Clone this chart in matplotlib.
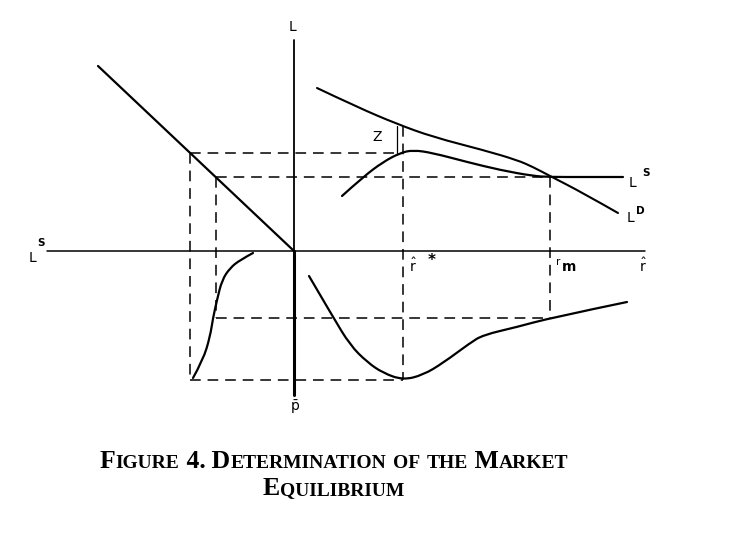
import numpy as np
import matplotlib
matplotlib.use('Agg')
import matplotlib.pyplot as plt
from matplotlib.path import Path
from matplotlib.patches import PathPatch

# diagram coordinates: origin where the two axes cross, L upwards, r to the right
r_star = 109.0      # r-hat *
r_m = 256.0         # market rate
L_high = 98.0       # supply at r*
L_eq = 74.0         # equilibrium volume
p_low = -129.0      # lowest p (at r*)
p_mid = -67.0       # p at r_m

# straight line in the upper-left quadrant
diag_x = [-196.0, 0.0]
diag_y = [185.0, 0.0]

# upper curve (L^D)
demand_x = [23, 63, 103, 139, 189, 223, 239, 256, 289, 324]
demand_y = [163, 144, 127, 114, 101, 91, 84, 75, 58, 38]

# hump shaped supply curve (L^S), flat after r_m
supply_x = [48, 69, 89, 106, 119, 139, 173, 206, 239, 256, 290, 329]
supply_y = [55, 74, 89, 98, 101, 98, 89, 81, 75, 74, 74, 74]

# lower right quadrant: p against r-hat
p_r_x = [15, 39, 56, 73, 89, 109, 129, 149, 176, 189, 223, 256, 333]
p_r_y = [-25, -66, -94, -111, -122, -129, -124, -112, -92, -84, -76, -67, -51]

# lower left quadrant: S shaped curve
s_x = [-101, -91, -84, -81, -77, -72, -64, -54, -41]
s_y = [-127, -109, -86, -67, -49, -29, -17, -9, -2]

caption_1 = ['Figure', '4.', 'Determination', 'of', 'the', 'Market']
caption_2 = ['Equilibrium']

W, H = 738, 536
X0, Y0 = 294, 251   # pixel position of the origin in the reference

fig = plt.figure(figsize=(W / 100, H / 100), dpi=100)
ax = fig.add_axes([0, 0, 1, 1])
ax.set_xlim(-X0, W - X0)
ax.set_ylim(Y0 - H, Y0)
ax.axis('off')

k = dict(color='black', solid_capstyle='round', solid_joinstyle='round')
dash = dict(color='black', lw=1.1, linestyle=(0, (7, 4.5)))


def smooth(xs, ys, lw=1.6):
    # quadratic bezier through the midpoints, points act as control points
    pts = np.column_stack([xs, ys]).astype(float)
    verts = [pts[0]]
    codes = [Path.MOVETO]
    for i in range(1, len(pts) - 1):
        mid = (pts[i] + pts[i + 1]) / 2
        if i == len(pts) - 2:
            mid = pts[i + 1]
        verts += [pts[i], mid]
        codes += [Path.CURVE3, Path.CURVE3]
    if len(pts) == 2:
        verts.append(pts[1])
        codes.append(Path.LINETO)
    ax.add_patch(PathPatch(Path(verts, codes), fill=False, lw=lw,
                           edgecolor='black', capstyle='round', joinstyle='round'))


# axes
ax.plot([-247, 351], [0, 0], lw=1.1, **k)
ax.plot([0, 0], [0, 211], lw=1.3, **k)
ax.plot([0, 0], [0, -144], lw=2.2, **k)

# curves
ax.plot(diag_x, diag_y, lw=1.6, **k)
smooth(demand_x, demand_y, 1.5)
smooth(supply_x, supply_y)
smooth(p_r_x, p_r_y)
smooth(s_x, s_y)

# dashed guides
slope = diag_y[0] / diag_x[0]
x_high = L_high / slope
x_eq = L_eq / slope
top_at_rstar = np.interp(r_star, demand_x, demand_y)
ax.plot([x_high, r_star], [L_high, L_high], **dash)
ax.plot([x_eq, r_m], [L_eq, L_eq], **dash)
ax.plot([x_high, x_high], [L_high, p_low], **dash)
ax.plot([x_eq, x_eq], [L_eq, p_mid], **dash)
ax.plot([x_high, r_star], [p_low, p_low], **dash)
ax.plot([x_eq, r_m], [p_mid, p_mid], **dash)
ax.plot([r_star, r_star], [top_at_rstar, p_low], **dash)
ax.plot([r_m, r_m], [L_eq, p_mid], **dash)
# Z bracket
ax.plot([r_star - 6, r_star - 6], [L_high, top_at_rstar], lw=0.9, **k)

# labels
lab = dict(fontsize=10, color='black', family='DejaVu Sans')
sup = dict(fontsize=7.5, color='black', family='DejaVu Sans', fontweight='bold')
ax.text(-2, 224, 'L', ha='center', va='center', **lab)
ax.text(-261, -7, 'L', ha='center', va='center', **lab)
ax.text(-253, 8, 'S', ha='center', va='center', **sup)
ax.text(338, 68, 'L', ha='center', va='center', **lab)
ax.text(352, 78, 'S', ha='center', va='center', **sup)
ax.text(336, 33, 'L', ha='center', va='center', **lab)
ax.text(346, 40, 'D', ha='center', va='center', **sup)
ax.text(83, 114, 'Z', ha='center', va='center', **lab)
ax.text(119, -15, r'$\hat{\mathrm{r}}$', ha='center', va='center', **lab)
ax.text(138, -10, '*', ha='center', va='center', fontsize=11, fontweight='bold')
ax.text(264, -11, 'r', ha='center', va='center', fontsize=7.5)
ax.text(275, -16, 'm', ha='center', va='center', fontsize=10, fontweight='bold')
ax.text(349, -15, r'$\hat{\mathrm{r}}$', ha='center', va='center', **lab)
ax.text(1, -156, r'$\bar{\mathrm{p}}$', ha='center', va='center', **lab)


def small_caps(x, y, words, big=18.5, small=14):
    # capitalised words get a full size first letter, the rest is small caps
    pieces = []
    for i, word in enumerate(words):
        lead = ' ' if i > 0 else ''
        if word[0].isupper():
            pieces.append((lead + word[0], big))
            if len(word) > 1:
                pieces.append((word[1:].upper(), small))
        elif word[0].isalpha():
            if lead:
                pieces.append((lead, big))
            pieces.append((word.upper(), small))
        else:
            pieces.append((lead + word, big))
    prev = None
    for s, size in pieces:
        style = dict(fontsize=size, family='Liberation Serif', color='black',
                     fontweight='bold', va='baseline', ha='left')
        if prev is None:
            prev = ax.text(x, y, s, **style)
        else:
            prev = ax.annotate(s, xy=(1, y), xycoords=(prev, 'data'), **style)


small_caps(-194, -217, caption_1)
small_caps(-31, -244, caption_2)

fig.savefig('out.png', dpi=100)
